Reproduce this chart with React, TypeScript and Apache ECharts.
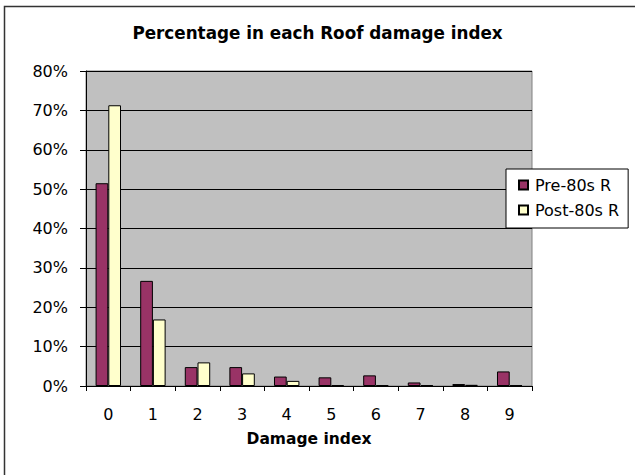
import React, { useEffect, useRef } from "react";
import * as echarts from "echarts";

const categories = ["0", "1", "2", "3", "4", "5", "6", "7", "8", "9"];
const pre80s = [51.5, 26.7, 4.8, 4.8, 2.4, 2.2, 2.7, 0.9, 0.5, 3.7];
const post80s = [71.3, 16.9, 6.0, 3.2, 1.3, 0.2, 0.2, 0.2, 0.3, 0.2];
const seriesNames = ["Pre-80s R", "Post-80s R"];
const titleText = "Percentage in each Roof damage index";
const xAxisName = "Damage index";

const FONT = "'DejaVu Sans', 'Liberation Sans', Arial, sans-serif";

export default function App() {
  const ref = useRef<HTMLDivElement>(null);
  useEffect(() => {
    document.body.style.margin = "0";
    const chart = echarts.init(ref.current!, null, { renderer: "svg" });
    chart.setOption({
      animation: false,
      backgroundColor: "#ffffff",
      textStyle: { fontFamily: FONT, color: "#000" },
      title: {
        text: titleText,
        left: "center",
        top: 19,
        textStyle: { fontFamily: FONT, fontSize: 16.8, fontWeight: "bold", color: "#000" },
      },
      graphic: [
        {
          type: "rect",
          shape: { x: 4.5, y: 6.5, width: 700, height: 600 },
          style: { fill: "none", stroke: "#333", lineWidth: 1.5 },
          silent: true,
          z: -1,
        },
      ],
      legend: {
        orient: "vertical",
        left: 506,
        top: 169,
        backgroundColor: "#ffffff",
        borderColor: "#000",
        borderWidth: 1,
        borderRadius: 0,
        padding: [8, 9, 10, 12],
        itemWidth: 9,
        itemHeight: 9,
        itemGap: 9,
        icon: "rect",
        textStyle: { fontFamily: FONT, fontSize: 16, color: "#000", padding: [0, 0, 0, 2] },
        data: seriesNames,
      },
      grid: {
        left: 86,
        right: 103,
        top: 71,
        bottom: 89,
        show: true,
        backgroundColor: "#C0C0C0",
        borderColor: "#808080",
        borderWidth: 1,
        containLabel: false,
      },
      xAxis: {
        type: "category",
        data: categories,
        name: xAxisName,
        nameLocation: "middle",
        nameGap: 45,
        nameTextStyle: { fontFamily: FONT, fontSize: 15.5, fontWeight: "bold", color: "#000" },
        axisLine: { lineStyle: { color: "#000", width: 1 } },
        axisTick: { show: true, length: 5, lineStyle: { color: "#000" } },
        axisLabel: { fontFamily: FONT, fontSize: 16, color: "#000", margin: 20 },
      },
      yAxis: {
        type: "value",
        min: 0,
        max: 80,
        interval: 10,
        axisLine: { show: true, lineStyle: { color: "#000", width: 1 } },
        axisTick: { show: true, length: 6, lineStyle: { color: "#000" } },
        axisLabel: { fontFamily: FONT, fontSize: 16, color: "#000", margin: 18, formatter: "{value}%" },
        splitLine: { show: true, lineStyle: { color: "#000", width: 1 } },
      },
      series: [
        {
          name: seriesNames[0],
          type: "bar",
          data: pre80s,
          barGap: "0%",
          barCategoryGap: "43%",
          itemStyle: { color: "#993366", borderColor: "#000", borderWidth: 1 },
        },
        {
          name: seriesNames[1],
          type: "bar",
          data: post80s,
          barGap: "0%",
          barCategoryGap: "43%",
          itemStyle: { color: "#FFFFCC", borderColor: "#000", borderWidth: 1 },
        },
      ],
    });
    return () => chart.dispose();
  }, []);
  return <div ref={ref} style={{ width: 635, height: 475 }} />;
}
